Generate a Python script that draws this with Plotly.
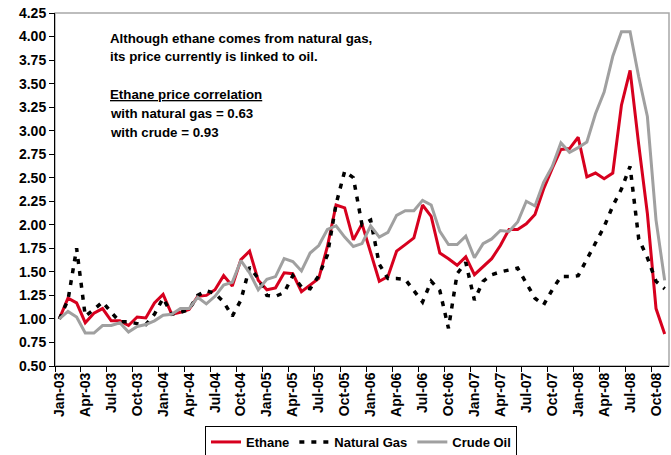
import pandas as pd
import plotly.graph_objects as go

# Monthly index values (Jan-03 = 1.00)
months = pd.date_range("2003-01-01", periods=71, freq="MS").strftime("%b-%y").tolist()

ethane = [
    1.00, 1.22, 1.17, 0.96, 1.06, 1.11, 0.98, 0.98, 0.93, 1.02,
    1.01, 1.17, 1.26, 1.05, 1.07, 1.10, 1.24, 1.25, 1.31, 1.46,
    1.35, 1.63, 1.72, 1.41, 1.31, 1.33, 1.49, 1.48, 1.29, 1.36,
    1.43, 1.77, 2.21, 2.18, 1.84, 2.01, 1.70, 1.40, 1.45, 1.72,
    1.79, 1.86, 2.21, 2.09, 1.70, 1.64, 1.57, 1.66, 1.47, 1.56,
    1.64, 1.78, 1.95, 1.95, 2.01, 2.11, 2.38, 2.60, 2.80, 2.81,
    2.93, 2.51, 2.55, 2.49, 2.55, 3.27, 3.64, 2.85, 2.12, 1.11,
    0.84,
]

natural_gas = [
    1.00, 1.20, 1.75, 1.03, 1.10, 1.18, 1.07, 0.97, 0.97, 0.95,
    0.94, 1.05, 1.22, 1.05, 1.07, 1.10, 1.25, 1.30, 1.27, 1.18,
    1.03, 1.20, 1.55, 1.43, 1.25, 1.24, 1.28, 1.46, 1.34, 1.32,
    1.46, 1.68, 2.22, 2.57, 2.50, 2.00, 2.05, 1.58, 1.43, 1.43,
    1.42, 1.30, 1.18, 1.40, 1.30, 0.90, 1.48, 1.60, 1.20, 1.40,
    1.47, 1.50, 1.52, 1.54, 1.38, 1.22, 1.15, 1.31, 1.45, 1.45,
    1.46, 1.64, 1.82, 1.98, 2.20, 2.38, 2.62, 1.85, 1.65, 1.40,
    1.32,
]

crude_oil = [
    1.00, 1.08, 1.02, 0.85, 0.85, 0.93, 0.93, 0.96, 0.86, 0.92,
    0.94, 0.98, 1.04, 1.05, 1.11, 1.11, 1.23, 1.16, 1.24, 1.36,
    1.39, 1.62, 1.49, 1.31, 1.42, 1.45, 1.64, 1.61, 1.51, 1.70,
    1.78, 1.95, 1.99, 1.87, 1.77, 1.80, 1.99, 1.87, 1.92, 2.10,
    2.15, 2.15, 2.26, 2.21, 1.93, 1.79, 1.79, 1.88, 1.65, 1.80,
    1.85, 1.94, 1.93, 2.03, 2.25, 2.20, 2.45, 2.62, 2.87, 2.77,
    2.82, 2.88, 3.18, 3.41, 3.79, 4.05, 4.05, 3.57, 3.15, 2.05,
    1.41,
]

y_ticks = [0.50, 0.75, 1.00, 1.25, 1.50, 1.75, 2.00, 2.25, 2.50, 2.75,
           3.00, 3.25, 3.50, 3.75, 4.00, 4.25]

# Text block in the upper-left of the plot; None marks a blank line
note_lines = [
    "Although ethane comes from natural gas,",
    "its price currently is linked to oil.",
    None,
    "<span style='text-decoration:underline'>Ethane price correlation</span>",
    "with natural gas = 0.63",
    "with crude = 0.93",
]

SANS = "Liberation Sans, Arial, sans-serif"
TICK_FONT = dict(family=SANS, size=14, color="black", weight="bold")

fig = go.Figure()
fig.add_trace(go.Scatter(x=months, y=ethane, name="Ethane", mode="lines",
                         line=dict(color="#D7001E", width=3)))
fig.add_trace(go.Scatter(x=months, y=natural_gas, name="Natural Gas", mode="lines",
                         line=dict(color="black", width=3.5, dash="5px,7px")))
fig.add_trace(go.Scatter(x=months, y=crude_oil, name="Crude Oil", mode="lines",
                         line=dict(color="#A0A0A0", width=3)))

fig.update_xaxes(
    type="category", range=[-0.5, len(months) - 0.5],
    tickmode="linear", tick0=0, dtick=3, tickson="boundaries",
    ticks="outside", ticklen=5, tickcolor="black", tickangle=-90,
    tickfont=TICK_FONT, showline=True, linecolor="black", linewidth=1,
    showgrid=False, zeroline=False,
)
fig.update_yaxes(
    range=[0.5, 4.25], tickvals=y_ticks, tickformat=".2f",
    ticks="outside", ticklen=5, tickcolor="black", tickfont=TICK_FONT,
    showline=True, linecolor="black", linewidth=1,
    showgrid=False, zeroline=False,
)

# light frame on the top and right of the plot area
fig.add_shape(type="rect", xref="paper", yref="paper", x0=0, y0=0, x1=1, y1=1,
              line=dict(color="#A8A8A8", width=1.5), layer="below")

PLOT_H = 455 - 13 - 89
for k, line in enumerate(note_lines):
    if line is None:
        continue
    y_px = 38 + 18.8 * k  # line centre, pixels from the top of the page
    fig.add_annotation(
        xref="paper", yref="paper", x=0.086, y=(366 - y_px) / PLOT_H,
        xanchor="left", yanchor="middle", align="left", showarrow=False,
        font=dict(family=SANS, size=13.3, color="black", weight="bold"),
        text=line,
    )

fig.update_layout(
    width=671, height=455,
    margin=dict(l=55, r=2, t=13, b=89, autoexpand=False),
    paper_bgcolor="white", plot_bgcolor="white",
    showlegend=True,
    legend=dict(orientation="h", x=361 / 671, xref="container", xanchor="center",
                y=(455 - 426) / 455, yref="container", yanchor="top",
                bordercolor="black", borderwidth=1,
                font=dict(family=SANS, size=13, color="black", weight="bold"),
                itemwidth=30, tracegroupgap=0),
)

fig.write_html("out.html")
